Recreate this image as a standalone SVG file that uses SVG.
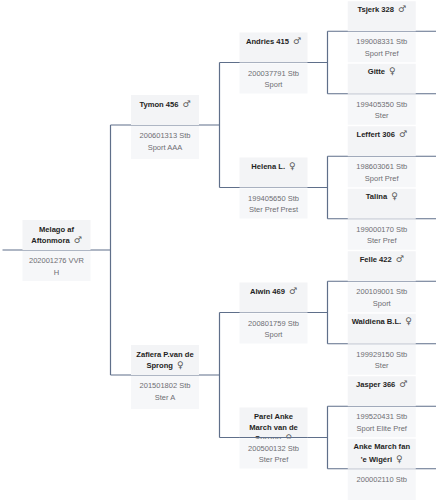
<svg xmlns="http://www.w3.org/2000/svg" width="440" height="500" viewBox="0 0 440 500">
<style>
.h{fill:#f3f4f6}
.b{fill:#f6f7f9}
.n{font-family:"Liberation Sans",Arial,sans-serif;font-weight:bold;font-size:7.6px;fill:#1f1f24;text-anchor:middle}
.d{font-family:"Liberation Sans",Arial,sans-serif;font-size:7.5px;fill:#6e6e73;text-anchor:middle}
.g{font-family:"DejaVu Sans",sans-serif;font-weight:normal;font-size:9px;fill:#555}
.ln{stroke:#5f6f8a;stroke-width:1.2;fill:none}
</style>
<rect width="440" height="500" fill="#ffffff"/>
<g id="connectors" class="ln">
<path d="M2.5 250H110.5M110.5 125V375M110.5 125H219.5M110.5 375H219.5"/>
<path d="M219.5 62.5V187.5M219.5 312.5V437.5M219.5 62.5H327.5M219.5 187.5H327.5M219.5 312.5H327.5M219.5 437.5H327.5"/>
<path d="M327.5 31.25V93.75M327.5 156.25V218.75M327.5 281.25V343.75M327.5 406.25V468.75"/>
<path d="M327.5 31.25H436M327.5 93.75H436M327.5 156.25H436M327.5 218.75H436M327.5 281.25H436M327.5 343.75H436M327.5 406.25H436M327.5 468.75H436"/>
</g>
<g id="melago">
<rect class="h" x="22.5" y="220" width="68" height="30"/><rect class="b" x="22.5" y="251" width="68" height="30"/>
<text class="n" x="56.5" y="231.7">Melago af</text>
<text class="n" x="56.5" y="243.4">Aftonmora<tspan class="g" dx="4">♂</tspan></text>
<text class="d" x="56.5" y="263.2">202001276 VVR</text>
<text class="d" x="56.5" y="274.7">H</text>
</g>
<g id="tymon">
<rect class="h" x="131" y="95" width="68" height="30"/><rect class="b" x="131" y="126" width="68" height="33"/>
<text class="n" x="165" y="106.7">Tymon 456<tspan class="g" dx="4">♂</tspan></text>
<text class="d" x="165" y="138.2">200601313 Stb</text>
<text class="d" x="165" y="149.7">Sport AAA</text>
</g>
<g id="zafiera">
<rect class="h" x="131" y="345" width="68" height="30"/><rect class="b" x="131" y="376" width="68" height="33"/>
<text class="n" x="165" y="356.7">Zafiera P.van de</text>
<text class="n" x="165" y="368.4">Sprong<tspan class="g" dx="4">♀</tspan></text>
<text class="d" x="165" y="388.2">201501802 Stb</text>
<text class="d" x="165" y="399.7">Ster A</text>
</g>
<g id="andries">
<rect class="h" x="239.5" y="32.5" width="68" height="30"/><rect class="b" x="239.5" y="63.5" width="68" height="30"/>
<text class="n" x="273.5" y="44.2">Andries 415<tspan class="g" dx="4">♂</tspan></text>
<text class="d" x="273.5" y="75.7">200037791 Stb</text>
<text class="d" x="273.5" y="87.2">Sport</text>
</g>
<g id="helena">
<rect class="h" x="239.5" y="157.5" width="68" height="30"/><rect class="b" x="239.5" y="188.5" width="68" height="30"/>
<text class="n" x="273.5" y="169.2">Helena L.<tspan class="g" dx="4">♀</tspan></text>
<text class="d" x="273.5" y="200.7">199405650 Stb</text>
<text class="d" x="273.5" y="212.2">Ster Pref Prest</text>
</g>
<g id="alwin">
<rect class="h" x="239.5" y="282.5" width="68" height="30"/><rect class="b" x="239.5" y="313.5" width="68" height="30"/>
<text class="n" x="273.5" y="294.2">Alwin 469<tspan class="g" dx="4">♂</tspan></text>
<text class="d" x="273.5" y="325.7">200801759 Stb</text>
<text class="d" x="273.5" y="337.2">Sport</text>
</g>
<g id="parel">
<rect class="h" x="239.5" y="407.5" width="68" height="30"/>
<text class="n" x="273.5" y="418.7">Parel Anke</text>
<text class="n" x="273.5" y="430.2">March van de</text>
<text class="n" x="273.5" y="440.6">Sprong<tspan class="g" dx="4">♀</tspan></text>
<rect class="b" x="239.5" y="438.5" width="68" height="30"/>
<line class="ln" x1="239.5" y1="437.5" x2="307.5" y2="437.5"/>
<text class="d" x="273.5" y="450.7">200500132 Stb</text>
<text class="d" x="273.5" y="462.2">Ster Pref</text>
</g>
<g id="tsjerk">
<rect class="h" x="347.75" y="1.25" width="68" height="30"/><rect class="b" x="347.75" y="32.25" width="68" height="30"/>
<text class="n" x="381.75" y="11.5">Tsjerk 328<tspan class="g" dx="4">♂</tspan></text>
<text class="d" x="381.75" y="44.45">199008331 Stb</text>
<text class="d" x="381.75" y="55.95">Sport Pref</text>
</g>
<g id="gitte">
<rect class="h" x="347.75" y="63.75" width="68" height="30"/><rect class="b" x="347.75" y="94.75" width="68" height="30"/>
<text class="n" x="381.75" y="74">Gitte<tspan class="g" dx="4">♀</tspan></text>
<text class="d" x="381.75" y="106.95">199405350 Stb</text>
<text class="d" x="381.75" y="118.45">Ster</text>
</g>
<g id="leffert">
<rect class="h" x="347.75" y="126.25" width="68" height="30"/><rect class="b" x="347.75" y="157.25" width="68" height="30"/>
<text class="n" x="381.75" y="136.5">Leffert 306<tspan class="g" dx="4">♂</tspan></text>
<text class="d" x="381.75" y="169.45">198603061 Stb</text>
<text class="d" x="381.75" y="180.95">Sport Pref</text>
</g>
<g id="talina">
<rect class="h" x="347.75" y="188.75" width="68" height="30"/><rect class="b" x="347.75" y="219.75" width="68" height="30"/>
<text class="n" x="381.75" y="199">Talina<tspan class="g" dx="4">♀</tspan></text>
<text class="d" x="381.75" y="231.95">199000170 Stb</text>
<text class="d" x="381.75" y="243.45">Ster Pref</text>
</g>
<g id="felle">
<rect class="h" x="347.75" y="251.25" width="68" height="30"/><rect class="b" x="347.75" y="282.25" width="68" height="30"/>
<text class="n" x="381.75" y="261.5">Felle 422<tspan class="g" dx="4">♂</tspan></text>
<text class="d" x="381.75" y="294.45">200109001 Stb</text>
<text class="d" x="381.75" y="305.95">Sport</text>
</g>
<g id="waldiena">
<rect class="h" x="347.75" y="313.75" width="68" height="30"/><rect class="b" x="347.75" y="344.75" width="68" height="30"/>
<text class="n" x="381.75" y="324">Waldiena B.L.<tspan class="g" dx="4">♀</tspan></text>
<text class="d" x="381.75" y="356.95">199929150 Stb</text>
<text class="d" x="381.75" y="368.45">Ster</text>
</g>
<g id="jasper">
<rect class="h" x="347.75" y="376.25" width="68" height="30"/><rect class="b" x="347.75" y="407.25" width="68" height="30"/>
<text class="n" x="381.75" y="386.5">Jasper 366<tspan class="g" dx="4">♂</tspan></text>
<text class="d" x="381.75" y="419.45">199520431 Stb</text>
<text class="d" x="381.75" y="430.95">Sport Elite Pref</text>
</g>
<g id="anke">
<rect class="h" x="347.75" y="438.75" width="68" height="30"/><rect class="b" x="347.75" y="469.75" width="68" height="30.25"/>
<text class="n" x="381.75" y="449">Anke March fan</text>
<text class="n" x="381.75" y="461.5">'e Wigéri<tspan class="g" dx="4">♀</tspan></text>
<text class="d" x="381.75" y="481.95">200002110 Stb</text>
</g>
</svg>
